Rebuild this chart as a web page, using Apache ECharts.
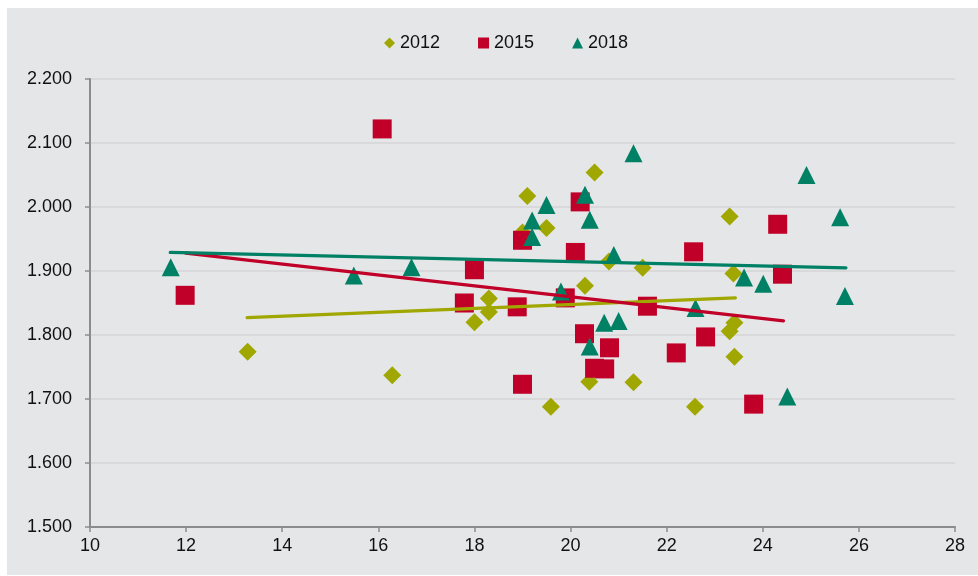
<!DOCTYPE html>
<html>
<head>
<meta charset="utf-8">
<script src="https://cdn.jsdelivr.net/npm/echarts@6/dist/echarts.min.js"></script>
<style>
html, body { margin: 0; padding: 0; background: #ffffff; }
#main { width: 978px; height: 576px; }
</style>
</head>
<body>
<div id="main"></div>
<script>
var years = ['2012', '2015', '2018'];

var data2012 = [
	[13.28, 1.774], [16.29, 1.737], [18.0, 1.820], [18.3, 1.857], [18.3, 1.836],
	[19.0, 1.960], [19.1, 2.017], [19.5, 1.967], [19.59, 1.688], [20.3, 1.877],
	[20.39, 1.727], [20.5, 2.054], [20.8, 1.915], [21.31, 1.726], [21.5, 1.905],
	[22.59, 1.688], [23.31, 1.985], [23.31, 1.806], [23.39, 1.896], [23.41, 1.819],
	[23.41, 1.766]
];
var data2015 = [
	[11.98, 1.862], [16.08, 2.122], [17.79, 1.850], [18.0, 1.902], [18.89, 1.844],
	[19.0, 1.948], [19.0, 1.723], [19.89, 1.858], [20.1, 1.929], [20.2, 2.008],
	[20.29, 1.802], [20.5, 1.748], [20.71, 1.747], [20.81, 1.780], [21.6, 1.845],
	[22.2, 1.772], [22.56, 1.930], [22.81, 1.797], [23.81, 1.692], [24.31, 1.973],
	[24.41, 1.895]
];
var data2018 = [
	[11.68, 1.906], [15.49, 1.893], [16.69, 1.906], [19.2, 1.979], [19.2, 1.953],
	[19.5, 2.003], [19.8, 1.868], [20.3, 2.019], [20.4, 1.980], [20.4, 1.782],
	[20.7, 1.819], [20.9, 1.925], [21.0, 1.822], [21.31, 2.084], [22.6, 1.842],
	[23.61, 1.890], [24.01, 1.880], [24.51, 1.704], [24.91, 2.050], [25.61, 1.984],
	[25.71, 1.861]
];

// trend line end points
var trend2012 = [[13.27, 1.827], [23.43, 1.858]];
var trend2015 = [[11.99, 1.928], [24.43, 1.822]];
var trend2018 = [[11.67, 1.929], [25.73, 1.905]];

var colors = ['#a0a700', '#c00028', '#008064'];
var font = '"Liberation Sans", Arial, sans-serif';

var myChart = echarts.init(document.getElementById('main'));

function trend(data, color) {
	return {
		type: 'line',
		data: data,
		symbol: 'none',
		silent: true,
		z: 5,
		lineStyle: { color: color, width: 3.3, cap: 'round' }
	};
}

var option = {
	animation: false,
	graphic: [{
		type: 'rect',
		z: -10,
		shape: { x: 7, y: 8, width: 971, height: 567 },
		style: { fill: '#e5e6e8' }
	}],
	legend: {
		left: 379,
		top: 29,
		itemWidth: 11,
		itemHeight: 11,
		itemGap: 38,
		textStyle: { fontFamily: font, fontSize: 18, color: '#111111' },
		data: [
			{ name: years[0], icon: 'diamond' },
			{ name: years[1], icon: 'rect' },
			{ name: years[2], icon: 'triangle' }
		]
	},
	grid: { left: 90, right: 23, top: 79, bottom: 49 },
	xAxis: {
		type: 'value',
		min: 10,
		max: 28,
		interval: 2,
		axisLine: { lineStyle: { color: '#8c8c8c', width: 2 } },
		axisTick: { length: 5, lineStyle: { color: '#8c8c8c', width: 1.5 } },
		axisLabel: { margin: 10, fontFamily: font, fontSize: 18, color: '#111111' },
		splitLine: { show: false }
	},
	yAxis: {
		type: 'value',
		min: 1.5,
		max: 2.2,
		interval: 0.1,
		axisLine: { show: true, lineStyle: { color: '#8c8c8c', width: 2 } },
		axisTick: { show: true, length: 5, lineStyle: { color: '#8c8c8c', width: 1.5 } },
		axisLabel: {
			margin: 18,
			fontFamily: font,
			fontSize: 18,
			color: '#111111',
			formatter: function (v) { return v.toFixed(3); }
		},
		splitLine: { lineStyle: { color: '#d4d5d7', width: 1.5 } }
	},
	series: [{
		name: years[0],
		type: 'scatter',
		symbol: 'diamond',
		symbolSize: 18,
		itemStyle: { color: colors[0], opacity: 1 },
		data: data2012
	}, {
		name: years[1],
		type: 'scatter',
		symbol: 'rect',
		symbolSize: 19,
		itemStyle: { color: colors[1], opacity: 1 },
		data: data2015
	}, {
		name: years[2],
		type: 'scatter',
		symbol: 'triangle',
		symbolSize: 18,
		itemStyle: { color: colors[2], opacity: 1 },
		data: data2018
	},
	trend(trend2012, colors[0]),
	trend(trend2015, colors[1]),
	trend(trend2018, colors[2])
	]
};
myChart.setOption(option);
</script>
</body>
</html>
